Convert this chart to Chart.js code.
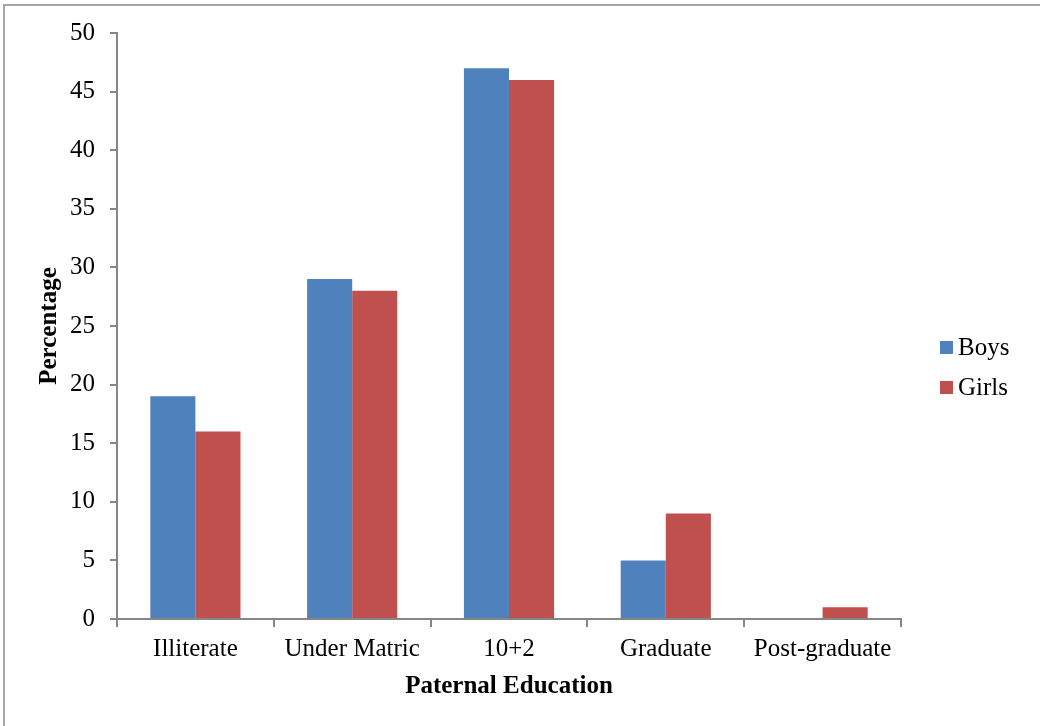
<!DOCTYPE html>
<html>
<head>
<meta charset="utf-8">
<script src="https://cdn.jsdelivr.net/npm/chart.js@4.4.1/dist/chart.umd.min.js"></script>
<style>
  html, body { margin: 0; padding: 0; background: #fff; overflow: hidden; }
  #wrap { position: relative; width: 1040px; height: 726px; }
  #frame {
    position: absolute; left: 3px; top: 4px; width: 1100px; height: 800px;
    border-left: 2px solid #a6a6a6; border-top: 2px solid #a6a6a6;
    pointer-events: none;
  }
  canvas { position: absolute; left: 0; top: 0; }
</style>
</head>
<body>
<div id="wrap">
  <canvas id="chart" width="1040" height="726"></canvas>
  <div id="frame"></div>
</div>
<script>
// paternal education levels and percentages
const categories = ["Illiterate", "Under Matric", "10+2", "Graduate", "Post-graduate"];
const boys = [19, 29, 47, 5, 0];
const girls = [16, 28, 46, 9, 1];

const FONT = "'Liberation Serif', 'Times New Roman', serif";
const AXIS = "#868686";

// legend drawn by hand on the right side
const sideLegend = {
  id: "sideLegend",
  afterDraw(chart) {
    const ctx = chart.ctx;
    ctx.save();
    ctx.font = "25px " + FONT;
    ctx.textBaseline = "middle";
    chart.data.datasets.forEach((ds, i) => {
      const y = 347 + i * 40;
      ctx.fillStyle = ds.backgroundColor;
      ctx.fillRect(940, y - 6, 13, 13);
      ctx.fillStyle = "#000";
      ctx.fillText(ds.label, 958, y + 1);
    });
    ctx.restore();
  }
};

new Chart(document.getElementById("chart").getContext("2d"), {
  type: "bar",
  data: {
    labels: categories,
    datasets: [
      { label: "Boys", data: boys, backgroundColor: "#4f81bd" },
      { label: "Girls", data: girls, backgroundColor: "#c0504d" }
    ]
  },
  options: {
    responsive: false,
    animation: false,
    layout: { padding: { top: 33, right: 139, left: 35, bottom: 24 } },
    datasets: { bar: { categoryPercentage: 0.575, barPercentage: 1.0 } },
    plugins: { legend: { display: false }, tooltip: { enabled: false } },
    scales: {
      x: {
        afterFit: s => { s.height = 83; },
        grid: { drawOnChartArea: false, drawTicks: true, tickLength: 8, color: AXIS, lineWidth: 2, offset: true },
        border: { color: AXIS, width: 2 },
        ticks: { color: "#000", font: { family: FONT, size: 25 }, padding: 7, maxRotation: 0 },
        title: { display: true, text: "Paternal Education", color: "#000", font: { family: FONT, size: 25, weight: "bold" }, padding: 0 }
      },
      y: {
        min: 0, max: 50,
        afterFit: s => { s.width = 82; },
        grid: { drawOnChartArea: false, drawTicks: true, tickLength: 7, color: AXIS, lineWidth: 2 },
        border: { color: AXIS, width: 2 },
        ticks: { stepSize: 5, color: "#000", font: { family: FONT, size: 25 }, padding: 15 },
        title: { display: true, text: "Percentage", color: "#000", font: { family: FONT, size: 25, weight: "bold" }, padding: 0 }
      }
    }
  },
  plugins: [sideLegend]
});
</script>
</body>
</html>
